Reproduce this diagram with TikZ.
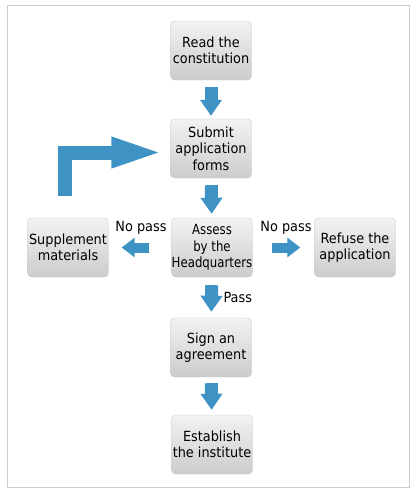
\documentclass[tikz,border=0pt]{standalone}
\usepackage{fontspec}
\setmainfont{DejaVu Sans}[FakeStretch=0.92]
\newfontfamily\narrowfont{DejaVu Sans}[FakeStretch=0.84]
\usetikzlibrary{arrows.meta}
\definecolor{arrowblue}{HTML}{3F93C4}
\definecolor{boxedge}{HTML}{C9CBCD}

\tikzset{
  stepbox/.style={draw=boxedge, rounded corners=4pt, top color=gray!10, bottom color=gray!40,
    minimum width=81pt, minimum height=59pt, align=center, inner sep=0pt,
    font=\fontsize{14}{16.5}\selectfont},
  flow/.style={draw=arrowblue, line width=13pt, -{Triangle[width=21pt,length=16pt]}},
  sideflow/.style={draw=arrowblue, line width=10pt, -{Triangle[width=19pt,length=13pt]}},
  lbl/.style={font=\fontsize{14}{16}\selectfont}
}

\begin{document}
\begin{tikzpicture}[x=1pt,y=-1pt]
    \useasboundingbox (0,0) rectangle (414,493);
    \draw[gray!40] (7,5) rectangle (409,487);

    % the steps
    \node[stepbox] (read) at (211,50.5) {Read the\\constitution};
    \node[stepbox] (submit) at (211,148.5) {Submit\\application\\forms};
    \node[stepbox, font={\narrowfont\fontsize{14}{16.5}\selectfont}] (assess) at (212,247.5) {Assess\\by the\\Headquarters};
    \node[stepbox] (supplement) at (68,247.5) {Supplement\\materials};
    \node[stepbox] (refuse) at (355,247.5) {Refuse the\\application};
    \node[stepbox] (sign) at (211,347.5) {Sign an\\agreement};
    \node[stepbox] (establish) at (212,444.5) {Establish\\the institute};

    % arrows
    \draw[flow, shorten <=7pt, shorten >=3pt] (read) -- (submit);
    \draw[flow, shorten <=7pt, shorten >=4pt] (submit) -- (assess);
    \draw[sideflow, shorten <=22pt, shorten >=13pt] (assess) -- (supplement);
    \draw[sideflow, shorten <=19pt, shorten >=14pt] (assess) -- (refuse);
    \draw[flow, shorten <=8pt, shorten >=6pt] (assess) -- (sign);
    \draw[flow, shorten <=6pt, shorten >=5pt] (sign) -- (establish);
    \coordinate (back) at (64.5,196);
    \draw[flow, line width=14pt, -{Triangle[width=27pt,length=54pt]}, shorten >=5pt]
        (back) |- ([yshift=-4pt]submit.west);

    % labels
    \node[lbl] (nopassl) at (141,228) {No pass};
    \node[lbl] (nopassr) at (286,228) {No pass};
    \node[lbl, anchor=west] (pass) at (220,297) {Pass};
\end{tikzpicture}
\end{document}
